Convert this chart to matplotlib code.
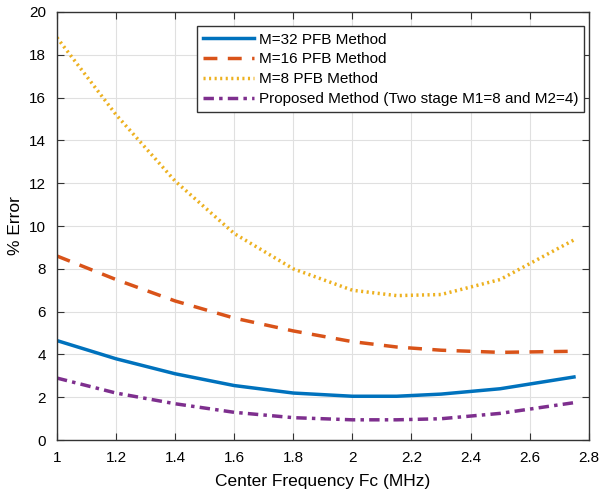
import matplotlib
matplotlib.use("Agg")
import matplotlib.pyplot as plt

plt.rcParams['font.family'] = ['Liberation Sans', 'DejaVu Sans']

fc = [1.0, 1.2, 1.4, 1.6, 1.8, 2.0, 2.15, 2.3, 2.5, 2.75]
err_m32 = [4.65, 3.8, 3.1, 2.55, 2.2, 2.05, 2.05, 2.15, 2.4, 2.95]
err_m16 = [8.6, 7.5, 6.5, 5.7, 5.1, 4.6, 4.35, 4.2, 4.1, 4.15]
err_m8 = [18.8, 15.2, 12.1, 9.65, 8.0, 7.0, 6.75, 6.8, 7.5, 9.35]
err_prop = [2.9, 2.2, 1.7, 1.3, 1.05, 0.95, 0.95, 1.0, 1.25, 1.75]

fig = plt.figure(figsize=(6.12, 4.94), dpi=100)
ax = fig.add_axes([0.093, 0.109, 0.869, 0.867])

ax.plot(fc, err_m32, color='#0072BD', lw=2.5, label='M=32 PFB Method')
ax.plot(fc, err_m16, color='#D95319', lw=2.5, ls=(0, (4, 3)), label='M=16 PFB Method')
ax.plot(fc, err_m8, color='#EDB120', lw=2.5, ls=(0, (0.6, 1.0)), label='M=8 PFB Method')
ax.plot(fc, err_prop, color='#7E2F8E', lw=2.5, ls=(0, (3, 1.5, 1, 1.5)),
        label='Proposed Method (Two stage M1=8 and M2=4)')

ax.set_xlim(1, 2.8)
ax.set_ylim(0, 20)
ax.set_xticks([1, 1.2, 1.4, 1.6, 1.8, 2, 2.2, 2.4, 2.6, 2.8])
ax.set_xticklabels(['1', '1.2', '1.4', '1.6', '1.8', '2', '2.2', '2.4', '2.6', '2.8'])
ax.set_yticks(range(0, 21, 2))
ax.grid(True, color='#e0e0e0', lw=0.8)
ax.set_axisbelow(True)
ax.tick_params(direction='in', top=True, right=True, labelsize=11, length=5,
               color='#333333', pad=8)
for s in ax.spines.values():
    s.set_color('#333333')
    s.set_linewidth(1.0)

ax.set_xlabel('Center Frequency Fc (MHz)', fontsize=12.5, labelpad=6)
ax.set_ylabel('% Error', fontsize=12.5, labelpad=4)

leg = ax.legend(loc='upper right', bbox_to_anchor=(0.992, 0.966), borderaxespad=0,
                fontsize=11, fancybox=False, framealpha=1, edgecolor='#333333',
                handlelength=3.3, borderpad=0.4, labelspacing=0.38, handletextpad=0.35)
leg.get_frame().set_linewidth(1.0)

fig.savefig('out.png', dpi=100)
